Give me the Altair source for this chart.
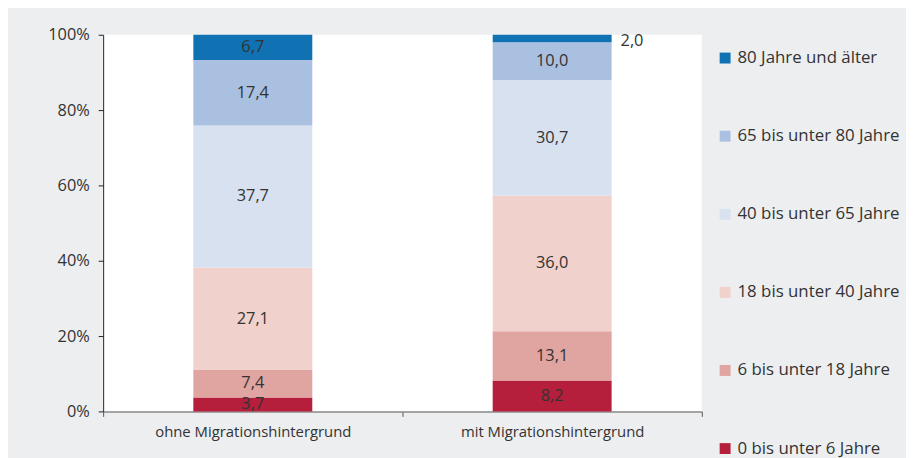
import altair as alt
import pandas as pd

groups = ["ohne Migrationshintergrund", "mit Migrationshintergrund"]
ages = ["0 bis unter 6 Jahre", "6 bis unter 18 Jahre", "18 bis unter 40 Jahre",
        "40 bis unter 65 Jahre", "65 bis unter 80 Jahre", "80 Jahre und älter"]
ohne = [3.7, 7.4, 27.1, 37.7, 17.4, 6.7]
mit = [8.2, 13.1, 36.0, 30.7, 10.0, 2.0]
colors = ["#B51F3C", "#E0A4A1", "#F0D1CC", "#D8E1F0", "#AAC0E0", "#1071B3"]

rows = []
for g, vals in zip(groups, [ohne, mit]):
    for i, (a, v) in enumerate(zip(ages, vals)):
        rows.append({"group": g, "age": a, "idx": i, "value": v})
df = pd.DataFrame(rows)

FONT = "Open Sans"
FS = 16.5
FSL = 17
FSX = 15
TXT = "#333333"

base = alt.Chart(df).transform_stack(
    stack="value", groupby=["group"],
    sort=[alt.SortField("idx", order="ascending")],
    as_=["y0", "y1"]
).transform_calculate(
    mid="(datum.y0 + datum.y1) / 2",
    label="replace(format(datum.value, '.1f'), '.', ',')"
)

xenc = alt.X("group:N", sort=groups, title=None,
             scale=alt.Scale(paddingInner=0, paddingOuter=0),
             axis=alt.Axis(labelAngle=0, labelFontSize=FSX, labelColor=TXT, labelFont=FONT,
                           labelPadding=8, labelLimit=400, domainColor="#8a8a8a", domainWidth=1.5,
                           tickColor="#555555", tickSize=5, tickBand="extent", grid=False))

bars = base.mark_bar(size=120).encode(
    x=xenc,
    y=alt.Y("y0:Q", title=None, scale=alt.Scale(domain=[0, 100], nice=False),
            axis=alt.Axis(values=[0, 20, 40, 60, 80, 100], labelExpr="datum.value + '%'",
                          labelFontSize=FS, labelColor=TXT, labelFont=FONT, labelPadding=9,
                          domainColor="#222222", tickColor="#222222", tickSize=5, grid=False)),
    y2="y1:Q",
    color=alt.Color("age:N", scale=alt.Scale(domain=ages[::-1], range=colors[::-1]),
                    legend=alt.Legend(title=None, orient="none", legendX=619, legendY=15,
                                      symbolType="square", symbolSize=121, symbolStrokeWidth=0,
                                      symbolOpacity=1, labelFontSize=FSL, labelFont=FONT,
                                      labelColor=TXT, labelOffset=4, rowPadding=60.8, padding=0,
                                      labelLimit=300)),
    order=alt.Order("idx:Q", sort="ascending"),
)

inner = base.transform_filter("datum.value >= 3").mark_text(
    fontSize=FS, font=FONT, color=TXT, baseline="middle"
).encode(x=alt.X("group:N", sort=groups), y=alt.Y("mid:Q"), text="label:N")

outer = base.transform_filter("datum.value < 3").mark_text(
    fontSize=FS, font=FONT, color=TXT, baseline="middle", align="left", dx=69, dy=3
).encode(x=alt.X("group:N", sort=groups), y=alt.Y("mid:Q"), text="label:N")

chart = alt.layer(bars, inner, outer).properties(
    width=604, height=380,
    autosize=alt.AutoSizeParams(type="none"),
    padding={"left": 96, "top": 25, "right": 206, "bottom": 45},
    background="#EDEEF0",
).configure_view(fill="white", strokeWidth=0)

chart.save("out.html", embed_options={"renderer": "svg", "actions": False})
